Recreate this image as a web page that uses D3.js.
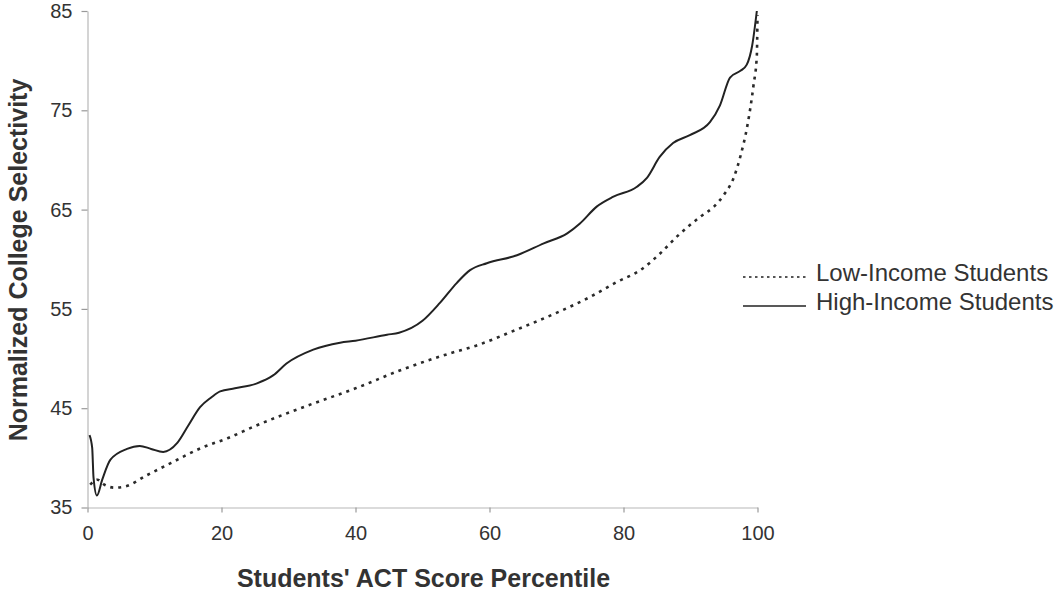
<!DOCTYPE html>
<html><head><meta charset="utf-8">
<script src="https://cdn.jsdelivr.net/npm/d3@7"></script>
<style>body{margin:0;background:#fff}svg{display:block}</style>
</head><body>
<svg id="c" width="1057" height="592"></svg>
<script>
const lowX = [0.4, 1.5, 2.5, 4, 5.5, 9, 12.5, 17, 21, 25, 33, 40, 47, 54, 58, 64, 70, 75, 79, 82.5, 85.5, 88, 91.5, 93.5, 95, 96.5, 97.5, 98.5, 99.4, 99.9, 100];
const lowY = [37.3, 37.8, 37.3, 37.0, 37.1, 38.3, 39.5, 41.0, 42.0, 43.2, 45.3, 47.0, 48.9, 50.5, 51.3, 52.9, 54.6, 56.2, 57.7, 58.9, 60.6, 62.3, 64.3, 65.3, 66.5, 68.3, 70.5, 73.5, 77.5, 80.5, 84.6];
const highX = [0.3, 0.7, 0.9, 1.4, 2.2, 3.4, 5.9, 7.8, 9.5, 11.3, 13.4, 15, 16.8, 18.5, 19.8, 22, 25.3, 27.7, 29.7, 33.7, 37.7, 40, 44.7, 46.5, 50, 52.6, 55.1, 57.1, 59.6, 64.1, 68.1, 71.6, 73.5, 76, 78.5, 82, 83.5, 85.4, 87.4, 89.9, 92.9, 94.4, 95.9, 97.5, 98.4, 99.2, 99.9];
const highY = [42.3, 41.0, 38.0, 36.2, 37.8, 39.8, 40.9, 41.2, 40.9, 40.6, 41.5, 43.2, 45.1, 46.1, 46.7, 47.0, 47.5, 48.3, 49.5, 50.9, 51.6, 51.8, 52.4, 52.6, 53.8, 55.6, 57.6, 58.9, 59.6, 60.4, 61.6, 62.6, 63.6, 65.3, 66.3, 67.3, 68.2, 70.3, 71.7, 72.5, 73.8, 75.5, 78.3, 79.0, 79.6, 81.5, 85.0];
const xTicks = [0, 20, 40, 60, 80, 100];
const yTicks = [35, 45, 55, 65, 75, 85];
const seriesNames = ["Low-Income Students", "High-Income Students"];
const xTitle = "Students' ACT Score Percentile";
const yTitle = "Normalized College Selectivity";

const svg = d3.select("#c");
const x = d3.scaleLinear().domain([0, 100]).range([87.5, 757.5]);
const y = d3.scaleLinear().domain([35, 85]).range([507.5, 11]);
const font = "Arial, 'Liberation Sans', sans-serif";
const axisCol = "#b8b8b8";

const xa = svg.append("g").attr("transform", `translate(0,${y(35)})`)
  .call(d3.axisBottom(x).tickValues(xTicks).tickSize(5).tickSizeOuter(0).tickPadding(13));
const ya = svg.append("g").attr("transform", `translate(${x(0)},0)`)
  .call(d3.axisLeft(y).tickValues(yTicks).tickSize(6).tickSizeOuter(0).tickPadding(9));
[xa, ya].forEach(a => {
  a.select(".domain").attr("stroke", axisCol).attr("stroke-width", 1.2);
  a.selectAll(".tick line").attr("stroke", "#999").attr("stroke-width", 1.2);
  a.selectAll(".tick text").attr("font-family", font).attr("font-size", 20).attr("fill", "#333");
});

const line = d3.line().x(d => x(d[0])).y(d => y(d[1])).curve(d3.curveMonotoneX);
const low = lowX.map((v, i) => [v, lowY[i]]);
const high = highX.map((v, i) => [v, highY[i]]);

svg.append("path").datum(low).attr("d", line).attr("fill", "none")
  .attr("stroke", "#2a2a2a").attr("stroke-width", 2.6).attr("stroke-dasharray", "3,5");
svg.append("path").datum(high).attr("d", line).attr("fill", "none")
  .attr("stroke", "#222").attr("stroke-width", 2);

svg.append("text").attr("x", 423.5).attr("y", 587).attr("text-anchor", "middle")
  .attr("font-family", font).attr("font-weight", "bold").attr("font-size", 25).attr("fill", "#333").text(xTitle);
svg.append("text").attr("transform", "translate(27,260) rotate(-90)").attr("text-anchor", "middle")
  .attr("font-family", font).attr("font-weight", "bold").attr("font-size", 25).attr("fill", "#333").text(yTitle);

const lg = svg.append("g");
[0, 1].forEach(i => {
  const yy = 277 + i * 29;
  lg.append("line").attr("x1", 743).attr("x2", 806).attr("y1", yy).attr("y2", yy)
    .attr("stroke", i === 0 ? "#555" : "#222").attr("stroke-width", i === 0 ? 2 : 1.6)
    .attr("stroke-dasharray", i === 0 ? "2.5,3.5" : null);
  lg.append("text").attr("x", 816).attr("y", yy + 4).attr("font-family", font)
    .attr("font-size", 24).attr("fill", "#333").text(seriesNames[i]);
});
</script>
</body></html>
